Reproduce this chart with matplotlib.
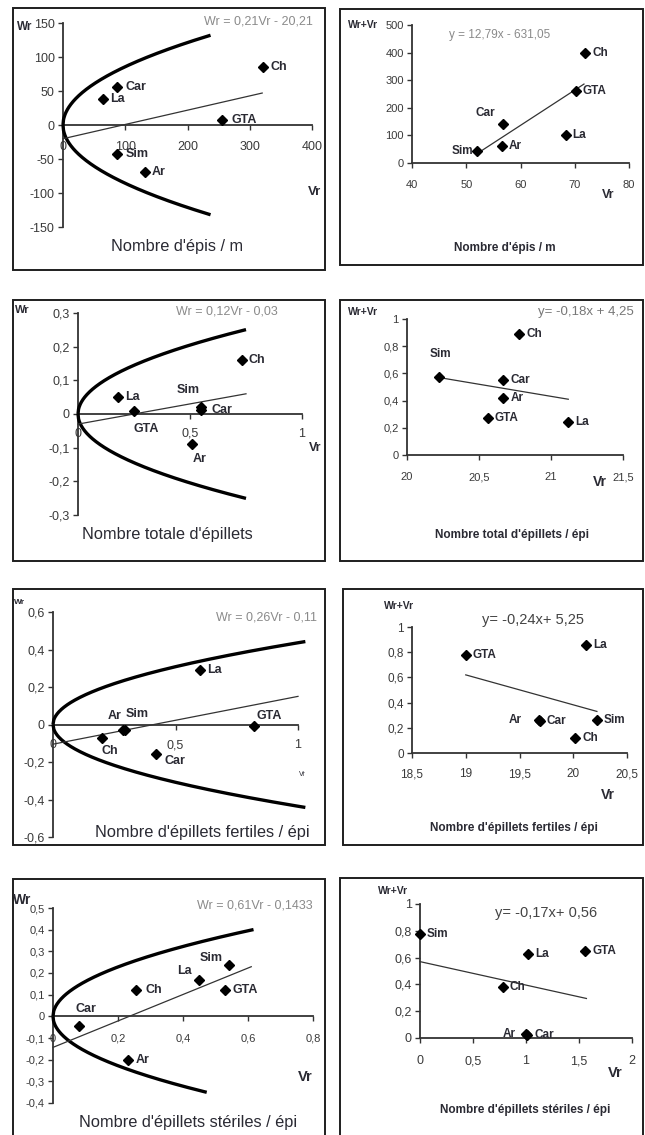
import numpy as np
import matplotlib
matplotlib.use("Agg")
import matplotlib.pyplot as plt
from matplotlib.patches import Rectangle

plt.rcParams['font.family'] = ['Liberation Sans', 'DejaVu Sans']

# ---------------- DATA ----------------
genotypes = ['Ar', 'Car', 'Ch', 'GTA', 'La', 'Sim']

# Panel 1 : Nombre d'épis / m  (Wr vs Vr)
p1_vr = [132, 86, 322, 256, 64, 86]
p1_wr = [-69, 56, 85, 7, 38, -43]
p1_fit_x = [0, 320]
p1_fit_y = [-20.2, 47]
p1_parab_k = 73.5          # Wr^2 = k * Vr
p1_parab_end = [237, 237]  # upper, lower branch end (Vr)
p1_xticks = [0, 100, 200, 300, 400]
p1_xticklabels = ['0', '100', '200', '300', '400']
p1_yticks = [-150, -100, -50, 0, 50, 100, 150]
p1_yticklabels = ['-150', '-100', '-50', '0', '50', '100', '150']

# Panel 2 : Nombre d'épis / m  (Wr+Vr vs parent value)
p2_x = [56.6, 56.8, 71.9, 70.2, 68.3, 51.9]
p2_y = [62, 142, 400, 262, 100, 42]
p2_fit_x = [51.8, 71.7]
p2_fit_y = [31.5, 286]
p2_xticks = [40, 50, 60, 70, 80]
p2_xticklabels = ['40', '50', '60', '70', '80']
p2_yticks = [0, 100, 200, 300, 400, 500]
p2_yticklabels = ['0', '100', '200', '300', '400', '500']

# Panel 3 : Nombre totale d'épillets
p3_vr = [0.51, 0.55, 0.73, 0.25, 0.18, 0.55]
p3_wr = [-0.09, 0.013, 0.16, 0.008, 0.05, 0.02]
p3_fit_x = [0, 0.75]
p3_fit_y = [-0.03, 0.06]
p3_parab_k = 0.0838
p3_parab_end = [0.75, 0.75]
p3_xticks = [0, 0.5, 1]
p3_xticklabels = ['0', '0,5', '1']
p3_yticks = [-0.3, -0.2, -0.1, 0, 0.1, 0.2, 0.3]
p3_yticklabels = ['-0,3', '-0,2', '-0,1', '0', '0,1', '0,2', '0,3']

# Panel 4 : Nombre total d'épillets / épi
p4_x = [20.67, 20.67, 20.78, 20.56, 21.12, 20.22]
p4_y = [0.42, 0.55, 0.89, 0.27, 0.24, 0.57]
p4_fit_x = [20.22, 21.12]
p4_fit_y = [0.57, 0.41]
p4_xticks = [20, 20.5, 21, 21.5]
p4_xticklabels = ['20', '20,5', '21', '21,5']
p4_yticks = [0, 0.2, 0.4, 0.6, 0.8, 1]
p4_yticklabels = ['0', '0,2', '0,4', '0,6', '0,8', '1']

# Panel 5 : Nombre d'épillets fertiles / épi
p5_vr = [0.285, 0.42, 0.2, 0.82, 0.6, 0.295]
p5_wr = [-0.03, -0.155, -0.07, -0.01, 0.29, -0.03]
p5_fit_x = [0, 1]
p5_fit_y = [-0.105, 0.15]
p5_parab_k = 0.19
p5_parab_end = [1.03, 1.03]
p5_xticks = [0, 0.5, 1]
p5_xticklabels = ['0', '0,5', '1']
p5_yticks = [-0.6, -0.4, -0.2, 0, 0.2, 0.4, 0.6]
p5_yticklabels = ['-0,6', '-0,4', '-0,2', '0', '0,2', '0,4', '0,6']

# Panel 6 : Nombre d'épillets fertiles / épi
p6_x = [19.68, 19.69, 20.02, 19.0, 20.12, 20.22]
p6_y = [0.26, 0.255, 0.12, 0.78, 0.86, 0.26]
p6_fit_x = [19.0, 20.22]
p6_fit_y = [0.62, 0.33]
p6_xticks = [18.5, 19, 19.5, 20, 20.5]
p6_xticklabels = ['18,5', '19', '19,5', '20', '20,5']
p6_yticks = [0, 0.2, 0.4, 0.6, 0.8, 1]
p6_yticklabels = ['0', '0,2', '0,4', '0,6', '0,8', '1']

# Panel 7 : Nombre d'épillets stériles / épi
p7_vr = [0.23, 0.08, 0.255, 0.53, 0.45, 0.54]
p7_wr = [-0.2, -0.045, 0.12, 0.12, 0.17, 0.235]
p7_fit_x = [0, 0.61]
p7_fit_y = [-0.1433, 0.229]
p7_parab_k = 0.26
p7_parab_end = [0.617, 0.473]
p7_xticks = [0, 0.2, 0.4, 0.6, 0.8]
p7_xticklabels = ['0', '0,2', '0,4', '0,6', '0,8']
p7_yticks = [-0.4, -0.3, -0.2, -0.1, 0, 0.1, 0.2, 0.3, 0.4, 0.5]
p7_yticklabels = ['-0,4', '-0,3', '-0,2', '-0,1', '0', '0,1', '0,2', '0,3', '0,4', '0,5']

# Panel 8 : Nombre d'épillets stériles / épi
p8_x = [1.0, 1.01, 0.78, 1.56, 1.02, 0.0]
p8_y = [0.03, 0.02, 0.38, 0.65, 0.625, 0.775]
p8_fit_x = [0, 1.57]
p8_fit_y = [0.57, 0.295]
p8_xticks = [0, 0.5, 1, 1.5, 2]
p8_xticklabels = ['0', '0,5', '1', '1,5', '2']
p8_yticks = [0, 0.2, 0.4, 0.6, 0.8, 1]
p8_yticklabels = ['0', '0,2', '0,4', '0,6', '0,8', '1']

titles = ["Nombre d'épis / m", "Nombre d'épis / m",
          "Nombre totale d'épillets", "Nombre total d'épillets / épi",
          "Nombre d'épillets fertiles / épi", "Nombre d'épillets fertiles / épi",
          "Nombre d'épillets stériles / épi", "Nombre d'épillets stériles / épi"]
equations = ["Wr = 0,21Vr - 20,21", "y = 12,79x - 631,05",
             "Wr = 0,12Vr - 0,03", "y= -0,18x + 4,25",
             "Wr = 0,26Vr - 0,11", "y= -0,24x+ 5,25",
             "Wr = 0,61Vr - 0,1433", "y= -0,17x+ 0,56"]

# ---------------- FIGURE ----------------
W, H = 645, 1135
fig = plt.figure(figsize=(W / 100, H / 100), dpi=100)
fig.patch.set_facecolor('white')
TXT = '#2a2a33'
AXC = '#333333'
LT_FS = 11.8    # left-panel titles
RT_FS = 8.5     # right-panel titles


def frame(x0, y0, x1, y1):
    fig.patches.append(Rectangle((x0 / W, 1 - y1 / H), (x1 - x0) / W, (y1 - y0) / H,
                                 transform=fig.transFigure, fill=False,
                                 ec='#1e1e1e', lw=1.4))


def ftext(px, py, s, **kw):
    fig.text(px / W, 1 - py / H, s, **kw)


def make_ax(x0, x1, ytop, ybot, xlim, ylim, xt, xtl, yt, ytl, cross, fs, xpad):
    ax = fig.add_axes([x0 / W, 1 - ybot / H, (x1 - x0) / W, (ybot - ytop) / H])
    ax.set_xlim(xlim)
    ax.set_ylim(ylim)
    ax.patch.set_alpha(0)
    for s in ('top', 'right'):
        ax.spines[s].set_visible(False)
    for s in ('left', 'bottom'):
        ax.spines[s].set_color(AXC)
        ax.spines[s].set_linewidth(1.3)
    if cross:
        ax.spines['bottom'].set_position(('data', 0))
    ax.set_xticks(xt, xtl)
    ax.set_yticks(yt, ytl)
    ax.tick_params(axis='both', direction='out', length=3.5, width=1.0, color=AXC,
                   labelsize=fs, labelcolor='#3a3a3a')
    ax.tick_params(axis='x', pad=xpad)
    ax.tick_params(axis='y', pad=2.5)
    return ax


def points(ax, xs, ys, offs, fs):
    ax.plot(xs, ys, ls='none', marker='D', ms=5.5, color='black', clip_on=False, zorder=5)
    for name, x, y, (ha, dx, dy) in zip(genotypes, xs, ys, offs):
        ax.annotate(name, (x, y), xytext=(dx * 0.72, -dy * 0.72), textcoords='offset points',
                    ha=ha, va='center', fontsize=fs, fontweight='bold', color=TXT,
                    annotation_clip=False, zorder=6)


def parabola(ax, k, ends):
    xu = np.linspace(0, ends[0], 300)
    xl = np.linspace(0, ends[1], 300)
    ax.plot(xu, np.sqrt(k * xu), color='black', lw=2.4, clip_on=False, solid_capstyle='butt', zorder=3)
    ax.plot(xl, -np.sqrt(k * xl), color='black', lw=2.4, clip_on=False, solid_capstyle='butt', zorder=3)


def fit(ax, xs, ys):
    ax.plot(xs, ys, color='#333333', lw=0.9, clip_on=False, zorder=4)


R = ('left', 7, 0)
LFS = 9      # point-label size left
RFS = 8.5    # point-label size right

# ---- Panel 1 ----
frame(13, 8, 325, 270)
ax = make_ax(63, 312, 23, 227, (0, 400), (-150, 150), p1_xticks, p1_xticklabels,
             p1_yticks, p1_yticklabels, True, 9, 8)
parabola(ax, p1_parab_k, p1_parab_end)
fit(ax, p1_fit_x, p1_fit_y)
points(ax, p1_vr, p1_wr, [R, ('left', 9, 0), R, ('left', 9, 0), R, ('left', 9, 0)], LFS)
ftext(258, 22, equations[0], ha='center', va='center', fontsize=9, color='#8a8a8a')
ftext(25, 27, 'Wr', ha='center', va='center', fontsize=8.5, fontweight='bold', color=TXT)
ftext(315, 192, 'Vr', ha='center', va='center', fontsize=9.5, fontweight='bold', color=TXT)
ftext(177, 247, titles[0], ha='center', va='center', fontsize=LT_FS, color=TXT)

# ---- Panel 2 ----
frame(340, 9, 643, 265)
ax = make_ax(412, 629, 25, 163, (40, 80), (0, 500), p2_xticks, p2_xticklabels,
             p2_yticks, p2_yticklabels, False, 8, 9)
fit(ax, p2_fit_x, p2_fit_y)
points(ax, p2_x, p2_y, [R, ('center', -18, -11), R, R, R, ('right', -3, 0)], RFS)
ftext(500, 35, equations[1], ha='center', va='center', fontsize=8.5, color='#8a8a8a')
ftext(363, 25, 'Wr+Vr', ha='center', va='center', fontsize=7.5, fontweight='bold', color=TXT)
ftext(608, 195, 'Vr', ha='center', va='center', fontsize=9, fontweight='bold', color=TXT)
ftext(505, 248, titles[1], ha='center', va='center', fontsize=RT_FS, fontweight='bold', color=TXT)

# ---- Panel 3 ----
frame(13, 300, 325, 561)
ax = make_ax(78, 302, 313, 515, (0, 1), (-0.3, 0.3), p3_xticks, p3_xticklabels,
             p3_yticks, p3_yticklabels, True, 9, 6.5)
parabola(ax, p3_parab_k, p3_parab_end)
fit(ax, p3_fit_x, p3_fit_y)
points(ax, p3_vr, p3_wr, [('center', 7, 15), ('left', 10, 0), R, ('center', 12, 18), R,
                          ('center', -13, -17)], LFS)
ftext(227, 312, equations[2], ha='center', va='center', fontsize=9, color='#8a8a8a')
ftext(22, 310, 'Wr', ha='center', va='center', fontsize=8, fontweight='bold', color=TXT)
ftext(315, 448, 'Vr', ha='center', va='center', fontsize=9, fontweight='bold', color=TXT)
ftext(167, 535, titles[2], ha='center', va='center', fontsize=LT_FS, color=TXT)

# ---- Panel 4 ----
frame(340, 300, 643, 561)
ax = make_ax(407, 623, 319, 455, (20, 21.5), (0, 1), p4_xticks, p4_xticklabels,
             p4_yticks, p4_yticklabels, False, 8, 9)
fit(ax, p4_fit_x, p4_fit_y)
points(ax, p4_x, p4_y, [R, R, R, R, R, ('center', 2, -23)], RFS)
ftext(538, 312, equations[3], ha='left', va='center', fontsize=9.5, color='#777777')
ftext(363, 312, 'Wr+Vr', ha='center', va='center', fontsize=7.5, fontweight='bold', color=TXT)
ftext(600, 482, 'Vr', ha='center', va='center', fontsize=10, fontweight='bold', color=TXT)
ftext(512, 535, titles[3], ha='center', va='center', fontsize=RT_FS, fontweight='bold', color=TXT)

# ---- Panel 5 ----
frame(13, 589, 325, 845)
ax = make_ax(53, 298, 612, 837, (0, 1), (-0.6, 0.6), p5_xticks, p5_xticklabels,
             p5_yticks, p5_yticklabels, True, 9, 7)
parabola(ax, p5_parab_k, p5_parab_end)
fit(ax, p5_fit_x, p5_fit_y)
points(ax, p5_vr, p5_wr, [('center', -8, -14), ('left', 9, 7), ('center', 8, 13),
                          ('center', 15, -10), R, ('center', 12, -16)], LFS)
ftext(266, 617, equations[4], ha='center', va='center', fontsize=9, color='#8a8a8a')
ftext(20, 603, 'Wr', ha='center', va='center', fontsize=6, fontweight='bold', color=TXT)
ftext(302, 775, 'Vr', ha='center', va='center', fontsize=5, color=TXT)
ftext(202, 833, titles[4], ha='center', va='center', fontsize=LT_FS, color=TXT)

# ---- Panel 6 ----
frame(343, 589, 643, 845)
ax = make_ax(412, 627, 627, 753, (18.5, 20.5), (0, 1), p6_xticks, p6_xticklabels,
             p6_yticks, p6_yticklabels, False, 8.5, 7.5)
fit(ax, p6_fit_x, p6_fit_y)
points(ax, p6_x, p6_y, [('right', -17, 0), R, R, R, R, R], RFS)
ftext(533, 620, equations[5], ha='center', va='center', fontsize=10.5, color='#444444')
ftext(399, 606, 'Wr+Vr', ha='center', va='center', fontsize=7.5, fontweight='bold', color=TXT)
ftext(608, 795, 'Vr', ha='center', va='center', fontsize=10, fontweight='bold', color=TXT)
ftext(514, 828, titles[5], ha='center', va='center', fontsize=RT_FS, fontweight='bold', color=TXT)

# ---- Panel 7 ----
frame(13, 879, 325, 1145)
ax = make_ax(53, 313, 908, 1103, (0, 0.8), (-0.4, 0.5), p7_xticks, p7_xticklabels,
             p7_yticks, p7_yticklabels, True, 8, 9)
parabola(ax, p7_parab_k, p7_parab_end)
fit(ax, p7_fit_x, p7_fit_y)
points(ax, p7_vr, p7_wr, [('left', 8, 0), ('center', 7, -17), ('left', 10, 0), R,
                          ('center', -15, -9), ('center', -17, -7)], LFS)
ftext(255, 905, equations[6], ha='center', va='center', fontsize=9, color='#8a8a8a')
ftext(22, 900, 'Wr', ha='center', va='center', fontsize=10, fontweight='bold', color=TXT)
ftext(305, 1077, 'Vr', ha='center', va='center', fontsize=10.5, fontweight='bold', color=TXT)
ftext(188, 1122, titles[6], ha='center', va='center', fontsize=LT_FS, color=TXT)

# ---- Panel 8 ----
frame(340, 878, 643, 1145)
ax = make_ax(420, 632, 904, 1038, (0, 2), (0, 1), p8_xticks, p8_xticklabels,
             p8_yticks, p8_yticklabels, False, 9, 9)
fit(ax, p8_fit_x, p8_fit_y)
points(ax, p8_x, p8_y, [('right', -10, 0), ('left', 7, 0), R, R, R, R], RFS)
ftext(546, 913, equations[7], ha='center', va='center', fontsize=10.5, color='#444444')
ftext(393, 891, 'Wr+Vr', ha='center', va='center', fontsize=7.5, fontweight='bold', color=TXT)
ftext(615, 1073, 'Vr', ha='center', va='center', fontsize=10.5, fontweight='bold', color=TXT)
ftext(525, 1110, titles[7], ha='center', va='center', fontsize=RT_FS, fontweight='bold', color=TXT)

fig.savefig('out.png', dpi=100)
